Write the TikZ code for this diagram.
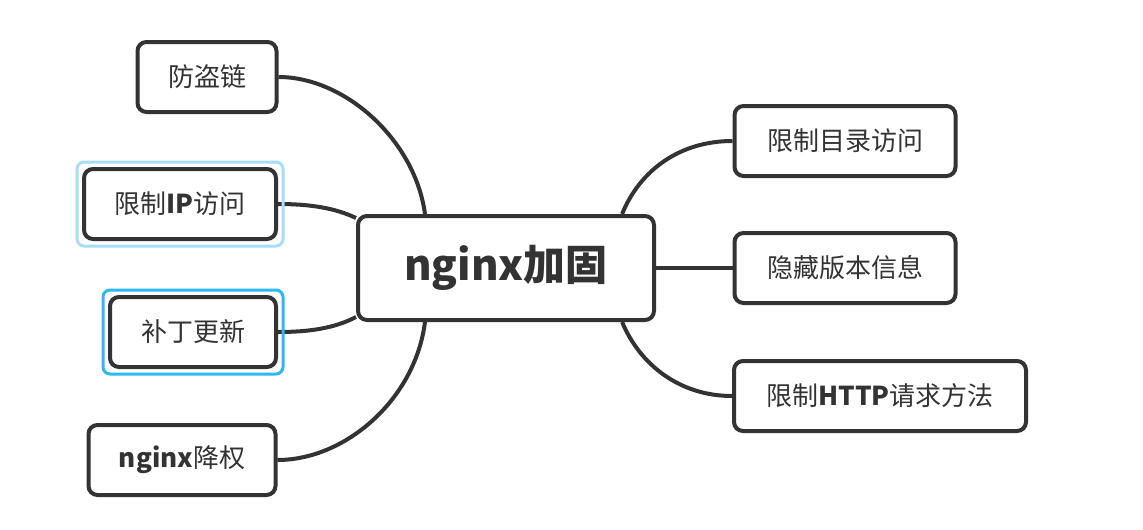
\documentclass[tikz,border=0pt]{standalone}
\usepackage{fontspec}
\setmainfont{Noto Sans CJK SC}
\usetikzlibrary{positioning, fit, calc, backgrounds}
\usepackage{xcolor}
\definecolor{ink}{HTML}{333333}
\definecolor{selpale}{HTML}{A8DDF8}
\definecolor{selblue}{HTML}{2DB7F5}

\begin{document}
\begin{tikzpicture}[x=1pt, y=-1pt,
      topic/.style={draw=ink, line width=4pt, rounded corners=9pt, fill=white,
                    text=ink, font=\fontsize{26}{30}\selectfont, inner sep=0pt,
                    minimum height=70pt},
      root/.style={topic, font=\bfseries\fontsize{42}{48}\selectfont,
                   minimum width=296pt, minimum height=104pt},
      sel/.style={draw=#1, line width=3pt, rounded corners=7pt, inner sep=5pt},
      link/.style={draw=ink, line width=4pt}
    ]
    \useasboundingbox (0,0) rectangle (1143,530);

    \node[root] (root) at (506,268) {nginx加固};

    \node[topic, minimum width=139pt] (leech) at (207,77)  {防盗链};
    \node[topic, minimum width=192pt] (ip)    at (180,204) {限制\textbf{IP}访问};
    \node[topic, minimum width=166pt] (patch) at (193,332) {补丁更新};
    \node[topic, minimum width=187pt] (user)  at (182,460) {\textbf{nginx}降权};

    \node[topic, minimum width=221pt] (dir)   at (845,141) {限制目录访问};
    \node[topic, minimum width=221pt] (ver)   at (845,268) {隐藏版本信息};
    \node[topic, minimum width=292pt] (http)  at (880,396) {限制\textbf{HTTP}请求方法};

    \node[sel=selpale, fit=(ip)] (ipsel) {};
    \node[sel=selblue, fit=(patch)] (patchsel) {};

    \begin{scope}[on background layer]
      \draw[link] (leech.east) .. controls (345,77) and (415,140) .. ($(root.north west)!0.23!(root.north east)$);
      \draw[link] (ip.east) .. controls (310,204) and (335,208) .. ($(root.north west)+(0,4)$);
      \draw[link] (patch.east) .. controls (310,332) and (335,328) .. ($(root.south west)+(0,-5)$);
      \draw[link] (user.east) .. controls (345,460) and (415,400) .. ($(root.south west)!0.23!(root.south east)$);
      \draw[link] ($(root.north west)!0.887!(root.north east)$) .. controls (640,170) and (680,141) .. (dir.west);
      \draw[link] (root.east) -- (ver.west);
      \draw[link] ($(root.south west)!0.887!(root.south east)$) .. controls (640,365) and (680,396) .. (http.west);
    \end{scope}
  \end{tikzpicture}
\end{document}
